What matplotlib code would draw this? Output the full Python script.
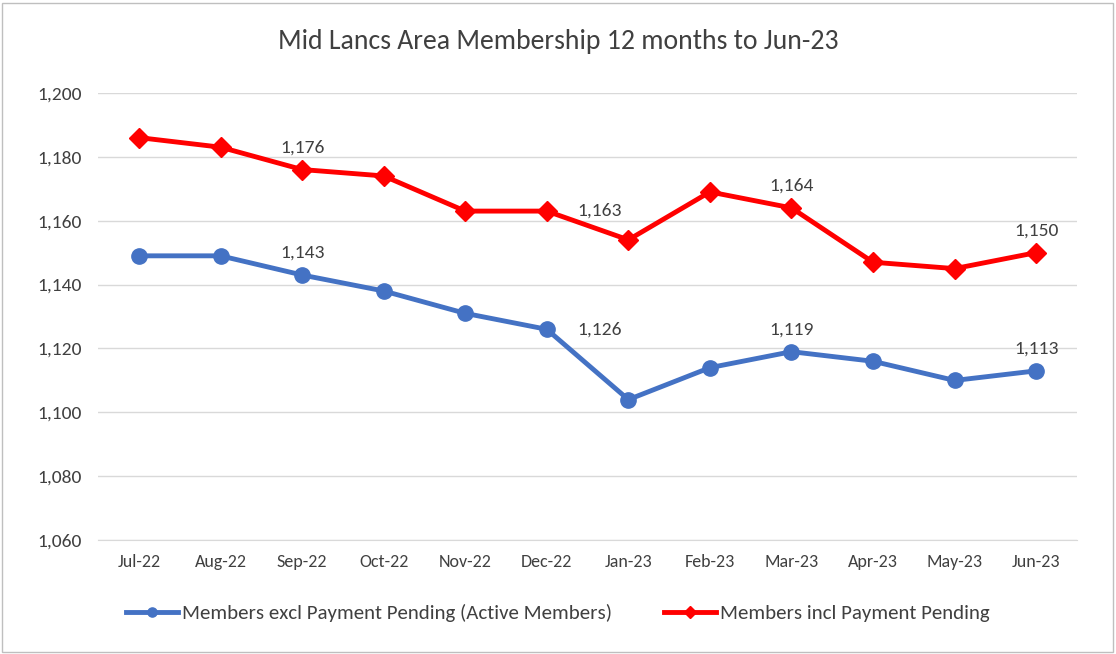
import matplotlib.pyplot as plt
import matplotlib.patches as mpatches

months = ["Jul-22", "Aug-22", "Sep-22", "Oct-22", "Nov-22", "Dec-22",
          "Jan-23", "Feb-23", "Mar-23", "Apr-23", "May-23", "Jun-23"]
excl_pending = [1149, 1149, 1143, 1138, 1131, 1126, 1104, 1114, 1119, 1116, 1110, 1113]
incl_pending = [1186, 1183, 1176, 1174, 1163, 1163, 1154, 1169, 1164, 1147, 1145, 1150]
# which points carry a value label
blue_labels = [2, 5, 8, 11]
red_labels = [2, 5, 8, 11]

plt.rcParams['font.family'] = ['Calibri', 'Carlito', 'Open Sans', 'DejaVu Sans']

fig = plt.figure(figsize=(11.16, 6.54), dpi=100)
ax = fig.add_axes([0.088, 0.174, 0.877, 0.684])
fig.patches.append(mpatches.Rectangle((0.002, 0.003), 0.995, 0.993, transform=fig.transFigure,
                                      fill=False, edgecolor="#bfbfbf", linewidth=1))

x = list(range(len(months)))
ax.plot(x, excl_pending, color="#4472c4", linewidth=3.5, marker="o", markersize=11,
        label="Members excl Payment Pending (Active Members)")
ax.plot(x, incl_pending, color="#ff0000", linewidth=3.5, marker="D", markersize=10,
        label="Members incl Payment Pending")

for vals, idx in [(excl_pending, blue_labels), (incl_pending, red_labels)]:
    for i in idx:
        if i == 5:
            ax.annotate(f"{vals[i]:,}", (x[i] + 0.65, vals[i]), xytext=(0, 0),
                        textcoords="offset points", ha="center", va="center",
                        fontsize=14, color="#404040")
        else:
            ax.annotate(f"{vals[i]:,}", (x[i], vals[i]), xytext=(0, 10),
                        textcoords="offset points", ha="center", va="bottom",
                        fontsize=14, color="#404040")

ax.set_ylim(1060, 1200)
ax.set_yticks(range(1060, 1201, 20))
ax.set_yticklabels([f"{v:,}" for v in range(1060, 1201, 20)])
ax.set_xlim(-0.5, len(months) - 0.5)
ax.set_xticks(x)
ax.set_xticklabels(months)
ax.tick_params(axis="y", length=0, labelsize=14, colors="#404040", pad=12)
ax.tick_params(axis="x", length=0, labelsize=13, colors="#404040", pad=10)
ax.grid(axis="y", color="#d9d9d9", linewidth=1)
ax.set_axisbelow(True)
for s in ["top", "right", "left"]:
    ax.spines[s].set_visible(False)
ax.spines["bottom"].set_color("#d9d9d9")

fig.text(0.5, 0.925, "Mid Lancs Area Membership 12 months to Jun-23", ha="center",
         fontsize=20, color="#404040")
fig.legend(loc="lower center", bbox_to_anchor=(0.5, 0.02), ncol=2, frameon=False,
           fontsize=15, labelcolor="#404040", handlelength=2.5, handletextpad=0.2,
           columnspacing=2.5, markerscale=0.6)

fig.savefig("out.png", dpi=100)
